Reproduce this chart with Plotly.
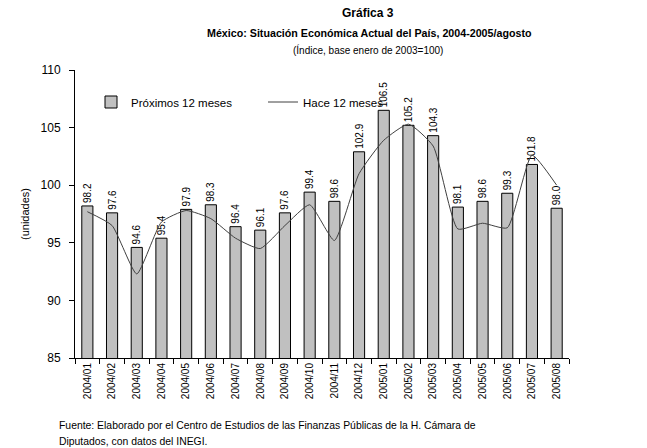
import plotly.graph_objects as go

categories = ["2004/01", "2004/02", "2004/03", "2004/04", "2004/05", "2004/06", "2004/07",
              "2004/08", "2004/09", "2004/10", "2004/11", "2004/12", "2005/01", "2005/02",
              "2005/03", "2005/04", "2005/05", "2005/06", "2005/07", "2005/08"]
proximos = [98.2, 97.6, 94.6, 95.4, 97.9, 98.3, 96.4, 96.1, 97.6, 99.4, 98.6, 102.9,
            106.5, 105.2, 104.3, 98.1, 98.6, 99.3, 101.8, 98.0]
hace = [97.7, 96.5, 92.3, 96.8, 97.8, 97.1, 95.4, 94.5, 96.5, 98.3, 95.2, 101.0,
        103.9, 105.3, 103.4, 96.2, 96.7, 96.3, 102.6, 100.0]
y_ticks = [85, 90, 95, 100, 105, 110]

FONT = "Liberation Sans, Arial, sans-serif"

# body margin is removed by post_script, so figure px = screen px
OFF = 0
L, T, PW, PH = 75 - OFF, 70 - OFF, 494, 288
W, H = 647, 448
R = W - L - PW
B = H - T - PH


def px(sx):
    return (sx - OFF - L) / PW


def py(sy):
    return (T + PH - (sy - OFF)) / PH


fig = go.Figure()
fig.add_trace(go.Bar(
    x=categories, y=proximos, name="Próximos 12 meses",
    marker=dict(color="#c0c0c0", line=dict(color="#000000", width=1)),
    width=0.45,
    text=[f"{v:.1f}" for v in proximos], textposition="outside", textangle=-90,
    textfont=dict(family=FONT, size=10, color="#000000"),
    constraintext="none", cliponaxis=False,
))
fig.add_trace(go.Scatter(
    x=categories, y=hace, name="Hace 12 meses", mode="lines",
    line=dict(color="#404040", width=1, shape="spline", smoothing=0.5),
))

fig.update_layout(
    width=W, height=H,
    margin=dict(l=L, r=R, t=T, b=B, autoexpand=False),
    plot_bgcolor="#ffffff", paper_bgcolor="#ffffff",
    font=dict(family=FONT, size=11, color="#000000"),
    showlegend=True,
    legend=dict(orientation="h", x=px(91), y=py(102), xanchor="left", yanchor="middle",
                font=dict(family=FONT, size=11.5), bgcolor="rgba(0,0,0,0)",
                itemwidth=30, entrywidth=127, entrywidthmode="pixels"),
    xaxis=dict(
        type="category", tickangle=-90, tickson="boundaries",
        ticks="outside", ticklen=5, tickcolor="#000000",
        showline=True, linecolor="#000000", linewidth=1,
        showgrid=False, tickfont=dict(family=FONT, size=10),
    ),
    yaxis=dict(
        range=[85, 110], tickvals=y_ticks,
        ticks="outside", ticklen=5, tickcolor="#000000",
        showline=True, linecolor="#000000", linewidth=1,
        showgrid=False, zeroline=False, tickfont=dict(family=FONT, size=12),
        ticklabelstandoff=6,
        title=dict(text="(unidades)", font=dict(family=FONT, size=11), standoff=8),
    ),
)

fig.add_annotation(text="<b>Gráfica 3</b>", x=px(368), y=py(13), xref="paper", yref="paper",
                   showarrow=False, font=dict(family=FONT, size=12), xanchor="center", yanchor="middle")
fig.add_annotation(text="<b>México: Situación Económica Actual del País, 2004-2005/agosto</b>",
                   x=px(369), y=py(33), xref="paper", yref="paper",
                   showarrow=False, font=dict(family=FONT, size=10.7), xanchor="center", yanchor="middle")
fig.add_annotation(text="(Índice, base enero de 2003=100)",
                   x=px(368), y=py(50), xref="paper", yref="paper",
                   showarrow=False, font=dict(family=FONT, size=10), xanchor="center", yanchor="middle")
fig.add_annotation(text="Fuente: Elaborado por el Centro de Estudios de las Finanzas Públicas de la H. Cámara de",
                   x=px(57), y=py(425), xref="paper", yref="paper", align="left",
                   showarrow=False, font=dict(family=FONT, size=10.4), xanchor="left", yanchor="middle")
fig.add_annotation(text="Diputados, con datos del INEGI.",
                   x=px(57), y=py(441), xref="paper", yref="paper", align="left",
                   showarrow=False, font=dict(family=FONT, size=10.4), xanchor="left", yanchor="middle")

fig.write_html("out.html",
               config={"displayModeBar": False},
               post_script="document.body.style.margin='0';document.body.style.overflow='hidden';")
